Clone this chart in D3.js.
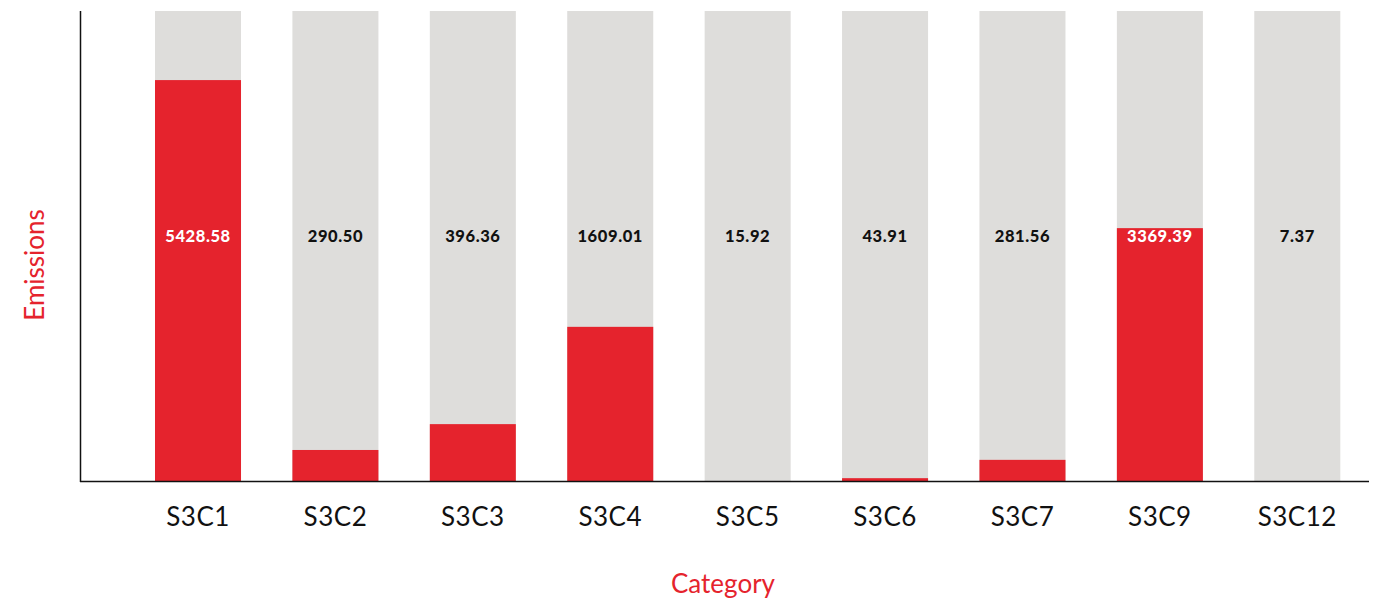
<!DOCTYPE html>
<html>
<head>
<meta charset="utf-8">
<script src="https://cdn.jsdelivr.net/npm/d3@7"></script>
<style>
  html, body { margin: 0; padding: 0; background: #fff; }
  svg { display: block; }
  text { font-family: Lato, "Open Sans", sans-serif; }
</style>
</head>
<body>
<svg id="chart" width="1374" height="604"></svg>
<script>
// ---- data ----
const categories = ["S3C1", "S3C2", "S3C3", "S3C4", "S3C5", "S3C6", "S3C7", "S3C9", "S3C12"];
const emissionLabels = ["5428.58", "290.50", "396.36", "1609.01", "15.92", "43.91", "281.56", "3369.39", "7.37"];
// red bar height as share (%) of the full grey column
const barShare = [85.3, 6.6, 12.1, 32.8, 0, 0.6, 4.5, 53.8, 0];
const shareMax = 100;

// ---- layout ----
const axisLeft = 80, axisRight = 1369, plotTop = 11, base = 481;
const red = "#E5232D", grey = "#DEDDDB";

const svg = d3.select("#chart");

const x = d3.scaleBand()
  .domain(categories)
  .range([129.3, 1366])
  .paddingInner(0.374)
  .paddingOuter(0.187);

const y = d3.scaleLinear().domain([0, shareMax]).range([base, plotTop]);

// grey background columns
svg.append("g").selectAll("rect")
  .data(categories)
  .join("rect")
  .attr("x", d => x(d))
  .attr("width", x.bandwidth())
  .attr("y", y(shareMax))
  .attr("height", y(0) - y(shareMax))
  .attr("fill", grey);

// red value bars
svg.append("g").selectAll("rect")
  .data(categories)
  .join("rect")
  .attr("x", d => x(d))
  .attr("width", x.bandwidth())
  .attr("y", (d, i) => y(barShare[i]))
  .attr("height", (d, i) => y(0) - y(barShare[i]))
  .attr("fill", red);

// value labels (middle of column)
const labelY = 242;
svg.append("g").selectAll("text")
  .data(categories)
  .join("text")
  .attr("x", d => x(d) + x.bandwidth() / 2)
  .attr("y", labelY)
  .attr("text-anchor", "middle")
  .attr("font-size", 16.5)
  .attr("font-weight", 900)
  .attr("letter-spacing", 0.6)
  .attr("fill", (d, i) => y(barShare[i]) < labelY - 12 ? "#ffffff" : "#111111")
  .text((d, i) => emissionLabels[i]);

// x axis
const xAxis = d3.axisBottom(x).tickSize(0).tickPadding(27);
const gx = svg.append("g").attr("transform", `translate(0,${base})`).call(xAxis);
gx.select(".domain").remove();
gx.selectAll("text")
  .attr("font-size", 26)
  .attr("letter-spacing", 0.5)
  .attr("fill", "#111")
  .style("font-family", "Lato, 'Open Sans', sans-serif");

// axis lines
svg.append("line")
  .attr("x1", axisLeft).attr("x2", axisRight)
  .attr("y1", base + 0.5).attr("y2", base + 0.5)
  .attr("stroke", "#111").attr("stroke-width", 1.5);
svg.append("line")
  .attr("x1", axisLeft + 0.5).attr("x2", axisLeft + 0.5)
  .attr("y1", plotTop).attr("y2", base + 1)
  .attr("stroke", "#111").attr("stroke-width", 1.5);

// axis titles
svg.append("text")
  .attr("x", 723)
  .attr("y", 593)
  .attr("text-anchor", "middle")
  .attr("font-size", 26)
  .attr("fill", red)
  .text("Category");

svg.append("text")
  .attr("transform", `translate(44,265) rotate(-90)`)
  .attr("text-anchor", "middle")
  .attr("font-size", 26)
  .attr("fill", red)
  .text("Emissions");
</script>
</body>
</html>
